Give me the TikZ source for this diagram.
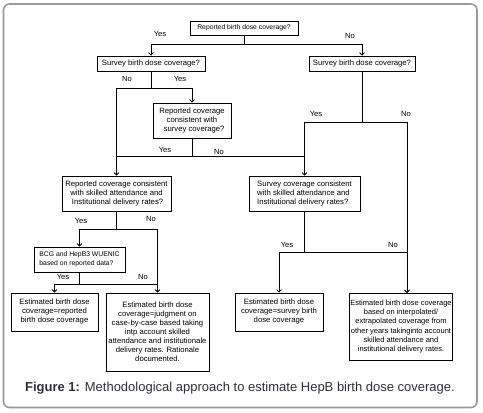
\documentclass[tikz,border=0pt]{standalone}
\usepackage{fontspec}
\setmainfont{Liberation Sans}
\usetikzlibrary{arrows.meta}
\begin{document}
\begin{tikzpicture}[x=1pt,y=-1pt,
  box/.style={draw=black,line width=0.8pt,inner sep=1pt,align=center,font=\fontsize{7.7}{9}\selectfont},
  lbl/.style={font=\fontsize{7.6}{9}\selectfont,inner sep=0pt},
  ln/.style={line width=0.8pt},
  arr/.style={line width=0.8pt,-{Straight Barb[length=2.5pt,width=5pt]}}]
\useasboundingbox (0,0) rectangle (483,413);
\draw[draw=black!40,line width=1.6pt,rounded corners=6pt] (3.5,4) rectangle (477,407.5);
% boxes
\node[box,minimum width=108pt,minimum height=14pt,font=\fontsize{6.8}{8}\selectfont] (b1) at (244,28) {Reported birth dose coverage?};
\node[box,minimum width=108pt,minimum height=15pt] (b2) at (151,63.5) {Survey birth dose coverage?};
\node[box,minimum width=106pt,minimum height=15pt] (b3) at (362,63.5) {Survey birth dose coverage?};
\node[box,minimum width=78pt,minimum height=35pt] (b4) at (192,120.5) {Reported coverage\\consistent with\\\ \ survey coverage?};
\node[box,minimum width=109pt,minimum height=35pt] (b5) at (116.5,193.5) {Reported coverage consistent\\with skilled attendance and\\\ Institutional delivery rates?};
\node[box,minimum width=111pt,minimum height=35pt,align=left] (b6) at (304.5,193.5) {Survey coverage consistent\\with skilled attendance and\\Institutional delivery rates?};
\node[box,minimum width=91pt,minimum height=25pt,align=left,font=\fontsize{6.8}{9}\selectfont] (b7) at (79.5,259.5) {BCG and HepB3 WUENIC\\based on reported data?};
\node[box,minimum width=87pt,minimum height=38pt] (b8) at (54.5,312) {Estimated birth dose\\coverage=reported\\birth dose coverage};
\node[box,minimum width=103pt,minimum height=78pt] (b9) at (157.5,332) {Estimated birth dose\\coverage=judgment on\\case-by-case based taking\\intp account skilled\\attendance and institutionale\\delivery rates. Rationale\\documented.};
\node[box,minimum width=88pt,minimum height=38pt] (b10) at (279,312) {Estimated birth dose\\coverage=survey birth\\dose coverage};
\node[box,minimum width=102pt,minimum height=67pt,font=\fontsize{7.5}{9.3}\selectfont] (b11) at (401,326.5) {Estimated birth dose coverage\\based on interpolated/\\extrapolated coverage from\\other years takinginto account\\skilled attendance and\\institutional delivery rates.};
% junctions
\coordinate (j1) at (244,44);
\coordinate (j2) at (151,88);
\coordinate (j3) at (362,122);
\coordinate (j4) at (192,156);
\coordinate (j5) at (116.5,229);
\coordinate (j6) at (304.5,252);
\coordinate (j7) at (79.5,284);
\coordinate (t11) at (407,293);
% connectors
\draw[ln] (b1.south) -- (j1);
\draw[arr] (j1) -| (b2.north);
\draw[arr] (j1) -| (b3.north);
\draw[ln] (b2.south) -- (j2);
\draw[arr] (j2) -| (b4.north);
\draw[arr] (j2) -| (b5.north);
\draw[ln] (b4.south) -- (j4);
\draw[ln] (j4) -- (j4 -| b5.north);
\draw[ln] (j4) -- (j4 -| b6.north);
\draw[ln] (b3.south) -- (j3);
\draw[arr] (j3) -| (b6.north);
\draw[arr] (j3) -| (t11);
\draw[ln] (b5.south) -- (j5);
\draw[arr] (j5) -| (b7.north);
\draw[arr] (j5) -| (b9.north);
\draw[ln] (b7.south) -- (j7);
\draw[arr] (j7) -| (b8.north);
\draw[ln] (j7) -- (j7 -| b9.north);
\draw[ln] (b6.south) -- (j6);
\draw[arr] (j6) -| (b10.north);
\draw[ln] (j6) -- (j6 -| t11);
% labels
\node[lbl] (l1) at (160,34) {Yes};
\node[lbl] (l2) at (350,36) {No};
\node[lbl] (l3) at (127,79) {No};
\node[lbl] (l4) at (180,79) {Yes};
\node[lbl] (l5) at (316,114) {Yes};
\node[lbl] (l6) at (406,114) {No};
\node[lbl] (l7) at (165,150) {Yes};
\node[lbl] (l8) at (219,152) {No};
\node[lbl] (l9) at (81,221) {Yes};
\node[lbl] (l10) at (151,219) {No};
\node[lbl] (l11) at (63,277) {Yes};
\node[lbl] (l12) at (143,277) {No};
\node[lbl] (l13) at (287,245) {Yes};
\node[lbl] (l14) at (393,245) {No};
% caption
\node[inner sep=0pt,text={rgb,255:red,45;green,45;blue,60},font=\fontsize{13}{15}\selectfont] (cap) at (240,388) {\textbf{Figure 1:} Methodological approach to estimate HepB birth dose coverage.};
\end{tikzpicture}
\end{document}
